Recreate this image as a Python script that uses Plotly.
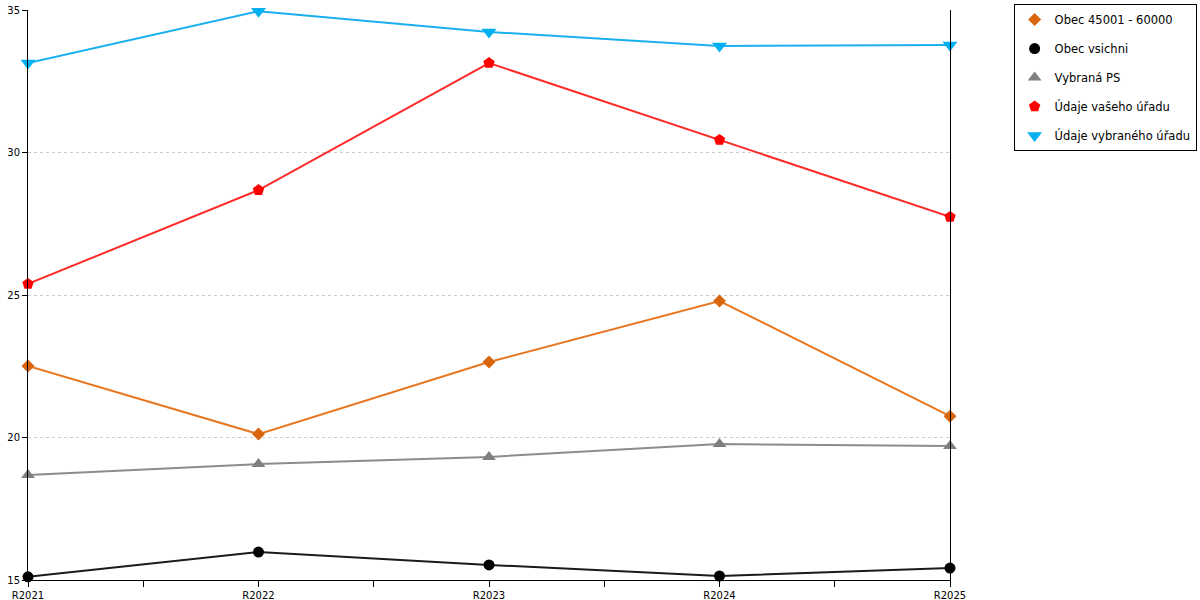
import plotly.graph_objects as go

years = ["R2021", "R2022", "R2023", "R2024", "R2025"]

obec_45001_60000 = [22.51, 20.12, 22.65, 24.79, 20.75]
obec_vsichni = [15.11, 15.98, 15.53, 15.14, 15.42]
vybrana_ps = [18.68, 19.07, 19.32, 19.77, 19.70]
udaje_vaseho = [25.39, 28.68, 33.14, 30.44, 27.74]
udaje_vybraneho = [33.14, 34.96, 34.23, 33.74, 33.77]

series = [
    ("Obec 45001 - 60000", obec_45001_60000, "#e87722", "#d9660f", "diamond", 10),
    ("Obec vsichni", obec_vsichni, "#1a1a1a", "#000000", "circle", 11),
    ("Vybraná PS", vybrana_ps, "#8c8c8c", "#7f7f7f", "triangle-up", 12),
    ("Údaje vašeho úřadu", udaje_vaseho, "#ff2b2b", "#ff0000", "pentagon", 12),
    ("Údaje vybraného úřadu", udaje_vybraneho, "#1ab0ee", "#00b0f0", "triangle-down", 13),
]

xpos = list(range(len(years)))

fig = go.Figure()
for i, (name, vals, lc, mc, sym, sz) in enumerate(series):
    fig.add_trace(go.Scatter(
        x=xpos, y=vals, name=name, mode="lines+markers",
        line=dict(color=lc, width=2),
        marker=dict(color=mc, symbol=sym, size=sz, line=dict(width=0)),
        cliponaxis=False, showlegend=False,
    ))
    # legend entry shows the marker only, like the original
    fig.add_trace(go.Scatter(
        x=[None], y=[None], name=name, mode="markers",
        marker=dict(color=mc, symbol=sym, size=sz, line=dict(width=0)),
        legendgroup=f"g{i}",
    ))

fig.update_layout(
    width=1200, height=600,
    paper_bgcolor="white", plot_bgcolor="white",
    font=dict(family="DejaVu Sans, Verdana, sans-serif", size=10, color="#000"),
    margin=dict(l=28, r=250, t=10, b=20, autoexpand=False),
    showlegend=True,
    legend=dict(
        x=1.069, y=1.0105, xanchor="left", yanchor="top",
        bordercolor="#000", borderwidth=1,
        font=dict(size=11.5), tracegroupgap=10,
        itemwidth=30,
    ),
)
fig.update_xaxes(
    range=[0, 4], tickmode="array", tickvals=xpos, ticktext=years,
    showline=True, linecolor="#000", linewidth=1,
    ticks="outside", ticklen=6, tickcolor="#000",
    showgrid=False, zeroline=False,
    minor=dict(tickvals=[0.5, 1.5, 2.5, 3.5], ticks="outside", ticklen=6, tickcolor="#000"),
)
fig.update_yaxes(
    range=[15, 35], tickvals=[15, 20, 25, 30, 35],
    showline=True, linecolor="#000", linewidth=1, mirror=True,
    ticks="outside", ticklen=5, tickcolor="#000",
    showgrid=True, gridcolor="#cccccc", griddash="3px,3px", gridwidth=1,
    zeroline=False,
)

# the page's default 8px body margin would shift the 1200x600 figure
fig.write_html(
    "out.html",
    config={"displayModeBar": False},
    post_script="document.body.style.margin='0';",
)
